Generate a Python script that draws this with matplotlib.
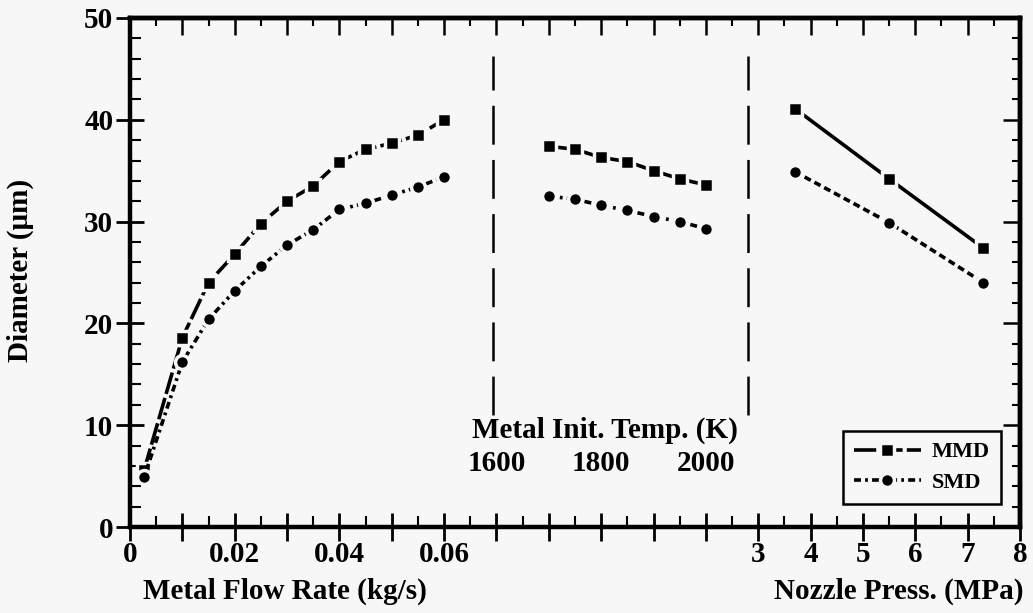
import numpy as np
import matplotlib
matplotlib.use("Agg")
import matplotlib.pyplot as plt
from matplotlib.ticker import MultipleLocator, FixedLocator, NullFormatter, FixedFormatter

plt.rcParams['font.family'] = ['Liberation Serif', 'DejaVu Serif']
plt.rcParams['font.weight'] = 'bold'
plt.rcParams['axes.labelweight'] = 'bold'
plt.rcParams['lines.scale_dashes'] = False

BG = '#f7f7f7'

# 数据：金属流量 (kg/s)
flow = [0.0027, 0.010, 0.015, 0.020, 0.025, 0.030, 0.035, 0.040, 0.045, 0.050, 0.055, 0.060]
flow_mmd = [5.6, 18.6, 24.0, 26.8, 29.8, 32.0, 33.5, 35.9, 37.1, 37.7, 38.5, 40.0]
flow_smd = [4.9, 16.2, 20.4, 23.2, 25.6, 27.7, 29.2, 31.2, 31.8, 32.6, 33.4, 34.4]

# 数据：金属初始温度 (K)
temp = [1700, 1750, 1800, 1850, 1900, 1950, 2000]
temp_mmd = [37.4, 37.1, 36.3, 35.9, 35.0, 34.2, 33.6]
temp_smd = [32.5, 32.2, 31.6, 31.1, 30.5, 30.0, 29.3]

# 数据：喷嘴压力 (MPa)
press = [3.7, 5.5, 7.3]
press_mmd = [41.1, 34.2, 27.4]
press_smd = [34.9, 29.9, 24.0]

temp_labels = [1600, 1800, 2000]
press_ticks = [3, 4, 5, 6, 7, 8]
flow_ticks = [0, 0.02, 0.04, 0.06]

FS = 21


# 三段横轴映射到同一个坐标
def u_flow(x):
    return np.asarray(x) * 100.0


def u_temp(t):
    return 7.0 + (np.asarray(t) - 1600.0) / 100.0


def u_press(p):
    return 12.0 + (np.asarray(p) - 3.0)


fig = plt.figure(figsize=(10.33, 6.13), dpi=100, facecolor=BG)
ax = fig.add_axes([130 / 1033, 1 - 527 / 613, 890 / 1033, 509 / 613])
ax.set_facecolor(BG)

mmd_style = dict(color='black', lw=2.6, ls=(0, (16, 3)), marker='s', ms=10,
                 mfc='black', mec=BG, mew=2.5)
smd_style = dict(color='black', lw=2.6, ls=(0, (5, 3, 2, 3)), marker='o', ms=10,
                 mfc='black', mec=BG, mew=2.5)

ax.plot(u_flow(flow), flow_mmd, label='MMD', **mmd_style)
ax.plot(u_flow(flow), flow_smd, label='SMD', **smd_style)
ax.plot(u_temp(temp), temp_mmd, **mmd_style)
ax.plot(u_temp(temp), temp_smd, **smd_style)
ax.plot(u_press(press), press_mmd, **dict(mmd_style, ls='-'))
ax.plot(u_press(press), press_smd, **dict(smd_style, ls=(0, (5, 3))))

# 分隔虚线
for xs in [6.93, 11.81]:
    ax.plot([xs, xs], [11.0, 46.3], color='black', lw=1.8, ls=(0, (28, 11)))

ax.set_xlim(0, 17)
ax.set_ylim(0, 50)

# 底部刻度
xt = list(u_flow(flow_ticks)) + list(u_press(press_ticks))
xl = ['0', '0.02', '0.04', '0.06'] + [str(p) for p in press_ticks]
ax.xaxis.set_major_locator(FixedLocator(np.arange(0, 18)))
ax.xaxis.set_minor_locator(MultipleLocator(0.5))
labels = []
for v in range(18):
    if v in xt:
        labels.append(xl[xt.index(v)])
    else:
        labels.append('')
ax.xaxis.set_major_formatter(FixedFormatter(labels))
ax.yaxis.set_major_locator(MultipleLocator(10))
ax.yaxis.set_minor_locator(MultipleLocator(2))

ax.tick_params(which='major', direction='inout', length=20, width=2, labelsize=FS, pad=2)
ax.tick_params(which='minor', direction='in', length=8, width=1.5)
ax.tick_params(axis='x', which='major', pad=0)

for s in ax.spines.values():
    s.set_linewidth(3.2)

# 顶部、右侧刻度（朝内）
top = ax.secondary_xaxis('top')
top.xaxis.set_major_locator(FixedLocator(np.arange(0, 18)))
top.xaxis.set_minor_locator(MultipleLocator(0.5))
top.xaxis.set_major_formatter(NullFormatter())
top.tick_params(which='major', direction='in', length=12, width=1.8)
top.tick_params(which='minor', direction='in', length=6, width=1.5)
right = ax.secondary_yaxis('right')
right.yaxis.set_major_locator(MultipleLocator(10))
right.yaxis.set_minor_locator(MultipleLocator(2))
right.yaxis.set_major_formatter(NullFormatter())
right.tick_params(which='major', direction='in', length=12, width=1.8)
right.tick_params(which='minor', direction='in', length=6, width=1.5)
for s in top.spines.values():
    s.set_linewidth(3.2)
for s in right.spines.values():
    s.set_linewidth(3.2)

# 温度轴标签（在图内）
for t in temp_labels:
    ax.text(u_temp(t), 6.2, str(t), ha='center', va='center', fontsize=FS)
ax.text(u_temp(1807), 9.5, 'Metal Init. Temp. (K)', ha='center', va='center', fontsize=FS)

ax.set_ylabel('Diameter (\u03bcm)', fontsize=FS)
ax.yaxis.set_label_coords(-(130 - 34) / 890, 0.505)
ax.text(u_flow(0.0295), -0.127, 'Metal Flow Rate (kg/s)', transform=ax.get_xaxis_transform(),
        ha='center', va='center', fontsize=FS)
ax.text(17.06, -0.127, 'Nozzle Press. (MPa)', transform=ax.get_xaxis_transform(),
        ha='right', va='center', fontsize=FS)

leg = ax.legend(loc='lower right', bbox_to_anchor=(0.9787, 0.045), borderaxespad=0,
                fancybox=False, framealpha=1, edgecolor='black', facecolor=BG,
                fontsize=16, handlelength=3.0, handletextpad=0.5, borderpad=0.5,
                labelspacing=0.45)
leg.get_frame().set_linewidth(1.8)

fig.savefig('out.png', dpi=100, facecolor=BG)
